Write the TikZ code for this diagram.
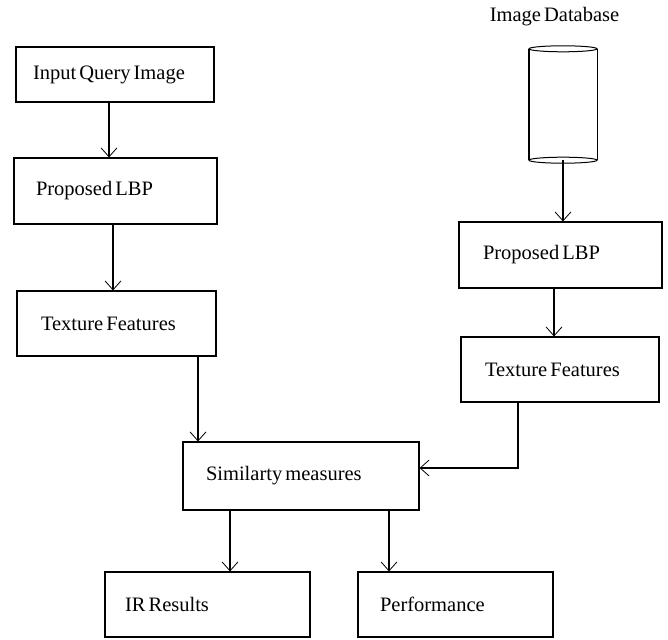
\documentclass[tikz,border=0pt]{standalone}
\usepackage{fontspec}
\setmainfont{Liberation Serif}[WordSpace=0.6]
\usepackage{tikz}
\usetikzlibrary{arrows.meta}
\usetikzlibrary{positioning}

\tikzset{
    block/.style={draw, line width=1.1pt, inner xsep=22pt, align=flush left,
        font=\fontsize{20.5}{23}\selectfont},
    arr/.style={line width=1.1pt, -{Straight Barb[length=9pt, width=16pt, line width=0.8pt]}}
}

\begin{document}
\begin{tikzpicture}[x=1pt, y=-1pt]
        \useasboundingbox (0,0) rectangle (668,639);

        % query side
        \node[block, inner xsep=17pt, text width=164pt, minimum height=55pt] (query) at (115,74.5) {Input Query Image};
        \node[block, text width=159pt, minimum height=66pt] (lbpL) at (115.5,191) {Proposed LBP};
        \node[block, inner xsep=24pt, text width=151pt, minimum height=65pt] (texL) at (116.5,323.5) {Texture Features};

        % database side
        \node[font=\fontsize{20.5}{23}\selectfont] (dblabel) at (554.5,17) {Image Database};
        \node[minimum width=68pt, minimum height=111pt, inner sep=0pt] (db) at (563,104.5) {};
        \draw[line width=1.4pt] (db.north west) -- (db.south west) (db.north east) -- (db.south east);
        \draw[line width=1pt] (db.north) ellipse (34pt and 3pt);
        \draw[line width=1pt] (db.south) ellipse (34pt and 3pt);
        \node[block, inner xsep=24pt, text width=155pt, minimum height=66pt] (lbpR) at (560.5,255) {Proposed LBP};
        \node[block, inner xsep=24pt, text width=150pt, minimum height=65pt] (texR) at (560,369.5) {Texture Features};

        % matching and output
        \node[block, inner xsep=23pt, text width=190pt, minimum height=68pt] (sim) at (301,476) {Similarty measures};
        \node[block, inner xsep=20pt, text width=165pt, minimum height=65pt] (irres) at (207.5,604.5) {IR Results};
        \node[block, text width=151pt, minimum height=65pt] (perf) at (455.5,604.5) {Performance};

        \draw[arr] ([xshift=-6pt]query.south) -- ([xshift=-6pt]query.south |- lbpL.north);
        \draw[arr] ([xshift=-2.5pt]lbpL.south) -- ([xshift=-2.5pt]lbpL.south |- texL.north);
        \draw[arr] ([xshift=81.5pt]texL.south) -- ([xshift=81.5pt]texL.south |- sim.north);
        \draw[arr] (db.south) -- (db.south |- lbpR.north);
        \draw[arr] ([xshift=-6.5pt]lbpR.south) -- ([xshift=-6.5pt]lbpR.south |- texR.north);
        \draw[arr] ([xshift=-42pt]texR.south) |- ([yshift=8pt]sim.east);
        \draw[arr] ([xshift=-71pt]sim.south) -- ([xshift=-71pt]sim.south |- irres.north);
        \draw[arr] ([xshift=88pt]sim.south) -- ([xshift=88pt]sim.south |- perf.north);
    \end{tikzpicture}
\end{document}
